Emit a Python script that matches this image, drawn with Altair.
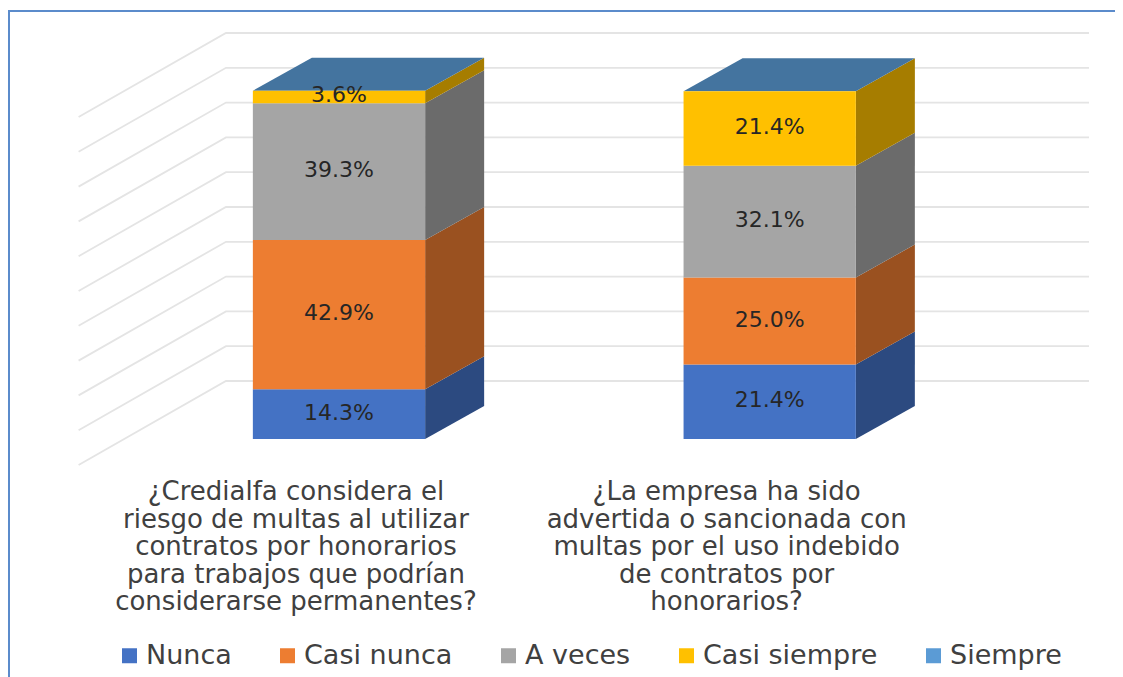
import altair as alt
import pandas as pd

series = ["Nunca", "Casi nunca", "A veces", "Casi siempre", "Siempre"]
front_colors = ["#4472C4", "#ED7D31", "#A5A5A5", "#FFC000", "#5B9BD5"]
side_colors = ["#2C4A80", "#9A5120", "#6B6B6B", "#A67D00", "#44749F"]
question_1 = [14.3, 42.9, 39.3, 3.6, 0.0]
question_2 = [21.4, 25.0, 32.1, 21.4, 0.0]
questions = [
    "¿Credialfa considera el\nriesgo de multas al utilizar\ncontratos por honorarios\npara trabajos que podrían\nconsiderarse permanentes?",
    "¿La empresa ha sido\nadvertida o sancionada con\nmultas por el uso indebido\nde contratos por\nhonorarios?",
]
grid_levels = [0, 10, 20, 30, 40, 50, 60, 70, 80, 90, 100]

FONT = "DejaVu Sans"
W, H = 1107, 669
half = 0.2
depth_x, depth_y = 0.137, 9.48
wall_left, wall_back, wall_right = -0.6046, -0.2624, 1.7414
floor_front, floor_back = -7.47, 16.67

xs = alt.Scale(domain=[-331 / 430.7, (W - 331) / 430.7], range=[0, W], nice=False, zero=False)
ys = alt.Scale(domain=[(431 - H) / 3.48, 431 / 3.48], range=[H, 0], nice=False, zero=False)

front, side, top, labels = [], [], [], []
for i, vals in enumerate([question_1, question_2]):
    base = 0.0
    for name, val, col in zip(series, vals, side_colors):
        lo, hi = base, base + val
        base = hi
        front.append(dict(series=name, x=i - half, x2=i + half, lo=lo, hi=hi))
        if val > 0:
            labels.append(dict(x=i, y=(lo + hi) / 2, t=f"{val:.1f}%"))
            side.append(dict(k=f"{i}{name}", c=col, x=i + half, lo=lo, hi=hi))
            side.append(dict(k=f"{i}{name}", c=col, x=i + half + depth_x, lo=lo + depth_y, hi=hi + depth_y))
    t = base
    c = side_colors[-1]
    top += [
        dict(k=i, c=c, x=i - half, lo=t, hi=t),
        dict(k=i, c=c, x=i - half + depth_x, lo=t, hi=t + depth_y),
        dict(k=i, c=c, x=i + half, lo=t, hi=t + depth_y),
        dict(k=i, c=c, x=i + half + depth_x, lo=t + depth_y, hi=t + depth_y),
    ]

grid = []
for g in grid_levels:
    grid += [
        dict(g=g, o=0, x=wall_left, y=g + floor_front),
        dict(g=g, o=1, x=wall_back, y=g + floor_back),
        dict(g=g, o=2, x=wall_right, y=g + floor_back),
    ]

X = lambda f: alt.X(f, scale=xs, axis=None)
Y = lambda f: alt.Y(f, scale=ys, axis=None)

border = alt.Chart(pd.DataFrame({"a": [0]})).mark_rect(
    filled=False, stroke="#5B8BCB", strokeWidth=2
).encode(x=alt.value(1), x2=alt.value(1300), y=alt.value(3), y2=alt.value(1000))

grid_layer = alt.Chart(pd.DataFrame(grid)).mark_line(color="#E4E4E4", strokeWidth=1.8).encode(
    x=X("x:Q"), y=Y("y:Q"), detail="g:N", order="o:Q"
)
side_layer = alt.Chart(pd.DataFrame(side)).mark_area().encode(
    x=X("x:Q"), y=Y("lo:Q"), y2="hi:Q", detail="k:N",
    fill=alt.Fill("c:N", scale=None, legend=None),
)
top_layer = alt.Chart(pd.DataFrame(top)).mark_area().encode(
    x=X("x:Q"), y=Y("lo:Q"), y2="hi:Q", detail="k:N",
    fill=alt.Fill("c:N", scale=None, legend=None),
)
front_layer = alt.Chart(pd.DataFrame(front)).mark_rect().encode(
    x=X("x:Q"), x2="x2:Q", y=Y("lo:Q"), y2="hi:Q",
    color=alt.Color(
        "series:N",
        scale=alt.Scale(domain=series, range=front_colors),
        legend=alt.Legend(
            title=None, orient="none", legendX=108, legendY=634, direction="horizontal",
            columns=5, symbolType="square", symbolSize=225, symbolStrokeWidth=0,
            labelFont=FONT, labelFontSize=27, labelColor="#404040", labelLimit=400,
            labelOffset=3, columnPadding=42,
        ),
    ),
)
label_layer = alt.Chart(pd.DataFrame(labels)).mark_text(
    font=FONT, fontSize=22, color="#262626", baseline="middle", dy=-1.5
).encode(x=X("x:Q"), y=Y("y:Q"), text="t:N")
cat_layer = alt.Chart(pd.DataFrame({"q": questions, "x": [-0.1, 0.9], "y": [-11.5, -11.5]})).mark_text(
    font=FONT, fontSize=26, color="#404040", baseline="top", align="center",
    lineBreak="\n", lineHeight=27.5,
).encode(x=X("x:Q"), y=Y("y:Q"), text="q:N")

chart = alt.layer(
    border, grid_layer, side_layer, top_layer, front_layer, label_layer, cat_layer
).properties(
    width=W, height=H, padding=0, autosize=alt.AutoSizeParams(type="none"),
    background="white",
).configure_view(stroke=None)

chart.save("out.html", embed_options={"renderer": "svg", "actions": False})
